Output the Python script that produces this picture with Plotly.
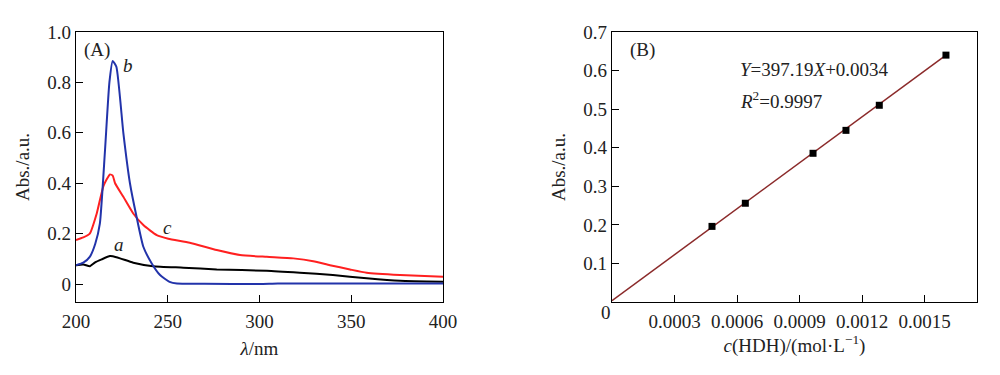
import plotly.graph_objects as go

# Panel A: UV-Vis spectra
wl_a = [200, 204, 207.6, 210.4, 214, 218.5, 220, 224, 231.2, 242, 258.5, 276.7, 304, 322, 340, 358.4, 376.6, 400]
abs_a = [0.075, 0.078, 0.071, 0.086, 0.098, 0.111, 0.110, 0.102, 0.085, 0.071, 0.065, 0.058, 0.053, 0.045, 0.036, 0.023, 0.013, 0.009]

wl_b = [200, 204, 207.5, 210.5, 213, 215.8, 218.2, 220, 222, 225.8, 229.4, 233, 236.7, 241.2, 245.8, 251, 255, 270, 300, 310, 350, 400]
abs_b = [0.075, 0.085, 0.108, 0.16, 0.24, 0.53, 0.80, 0.885, 0.862, 0.60, 0.40, 0.267, 0.148, 0.083, 0.036, 0.009, 0.002, 0.001, 0.0, 0.002, 0.002, 0.002]

wl_c = [200, 204, 207.5, 211.3, 215, 218.5, 220, 221.3, 225.8, 231.2, 236.7, 244, 250.3, 262, 276.7, 289.4, 304, 318.4, 329.3, 338.4, 349.3, 358.4, 376.6, 400]
abs_c = [0.175, 0.185, 0.20, 0.28, 0.39, 0.435, 0.43, 0.40, 0.346, 0.28, 0.234, 0.194, 0.18, 0.164, 0.135, 0.115, 0.108, 0.102, 0.091, 0.075, 0.058, 0.045, 0.036, 0.029]

# Panel B: calibration
conc = [0.00048, 0.00064, 0.000965, 0.001123, 0.001283, 0.001603]
absB = [0.196, 0.256, 0.3855, 0.445, 0.510, 0.640]
slope, intercept = 397.19, 0.0034
fit_x = [0.0, 0.0016]

x_ticks_a = [200, 250, 300, 350, 400]
y_ticks_a = [0, 0.2, 0.4, 0.6, 0.8, 1.0]
y_ticklabels_a = ["0", "0.2", "0.4", "0.6", "0.8", "1.0"]
x_ticks_b = [0.0003, 0.0006, 0.0009, 0.0012, 0.0015]
y_ticks_b = [0.1, 0.2, 0.3, 0.4, 0.5, 0.6, 0.7]

FONT = "Liberation Serif"
FS = 19

fig = go.Figure()
fig.add_trace(go.Scatter(x=wl_a, y=abs_a, mode="lines", line=dict(color="black", width=2, shape="spline", smoothing=0.5), xaxis="x", yaxis="y"))
fig.add_trace(go.Scatter(x=wl_c, y=abs_c, mode="lines", line=dict(color="#ff2020", width=2, shape="spline", smoothing=0.5), xaxis="x", yaxis="y"))
fig.add_trace(go.Scatter(x=wl_b, y=abs_b, mode="lines", line=dict(color="#2233aa", width=2, shape="spline", smoothing=0.5), xaxis="x", yaxis="y"))

fig.add_trace(go.Scatter(x=fit_x, y=[slope * v + intercept for v in fit_x], mode="lines",
                         line=dict(color="#8b2a2a", width=1.5), xaxis="x2", yaxis="y2"))
fig.add_trace(go.Scatter(x=conc, y=absB, mode="markers",
                         marker=dict(symbol="square", size=7, color="black"), xaxis="x2", yaxis="y2"))

ax_common = dict(showline=True, linecolor="black", linewidth=1.2, mirror=True, ticks="inside",
                 ticklen=7, tickcolor="black", showgrid=False, zeroline=False, automargin=False,
                 tickfont=dict(family=FONT, size=FS, color="#222"))

fig.update_layout(
    width=1000, height=375, margin=dict(l=0, r=0, t=0, b=0, autoexpand=False),
    paper_bgcolor="white", plot_bgcolor="white", showlegend=False,
    font=dict(family=FONT, size=FS, color="#222"),
    xaxis=dict(domain=[0.076, 0.443], range=[200, 400], tickvals=x_ticks_a, anchor="y",
               ticklabelstandoff=2,
               title=dict(text="<i>λ</i>/nm", font=dict(family=FONT, size=FS), standoff=10), **ax_common),
    yaxis=dict(domain=[0.1947, 0.9147], range=[-0.071, 1.0], tickvals=y_ticks_a, ticktext=y_ticklabels_a,
               anchor="x", title=dict(text="Abs./a.u.", font=dict(family=FONT, size=FS), standoff=12), **ax_common),
    xaxis2=dict(domain=[0.612, 0.977], range=[0, 0.001752], tickvals=x_ticks_b, tickformat=".4f", anchor="y2",
                ticklabelstandoff=2,
                title=dict(text="<i>c</i>(HDH)/(mol·L<sup>−1</sup>)", font=dict(family=FONT, size=FS), standoff=4), **ax_common),
    yaxis2=dict(domain=[0.1947, 0.9147], range=[0, 0.7], tickvals=y_ticks_b, anchor="x2",
                title=dict(text="Abs./a.u.", font=dict(family=FONT, size=FS), standoff=12), **ax_common),
)

ann_font = dict(family=FONT, size=FS, color="#222")
fig.add_annotation(x=211.4, y=0.929, xref="x", yref="y", text="(A)", showarrow=False, font=ann_font)
fig.add_annotation(x=223.4, y=0.159, xref="x", yref="y", text="<i>a</i>", showarrow=False, font=ann_font)
fig.add_annotation(x=228.3, y=0.869, xref="x", yref="y", text="<i>b</i>", showarrow=False, font=ann_font)
fig.add_annotation(x=250.1, y=0.226, xref="x", yref="y", text="<i>c</i>", showarrow=False, font=ann_font)

fig.add_annotation(x=0.000144, y=0.653, xref="x2", yref="y2", text="(B)", showarrow=False, font=ann_font)
fig.add_annotation(x=0.000605, y=0.604, xref="x2", yref="y2", xanchor="left",
                   text="<i>Y</i>=397.19<i>X</i>+0.0034", showarrow=False, font=ann_font)
fig.add_annotation(x=0.000605, y=0.524, xref="x2", yref="y2", xanchor="left",
                   text="<i>R</i><sup>2</sup>=0.9997", showarrow=False, font=ann_font)
fig.add_annotation(x=0.606, y=0.168, xref="paper", yref="paper", xanchor="center", yanchor="middle",
                   text="0", showarrow=False, font=ann_font)

fig.write_html("out.html", config={"displayModeBar": False},
               post_script="document.body.style.margin='0px';document.body.style.overflow='hidden';")
